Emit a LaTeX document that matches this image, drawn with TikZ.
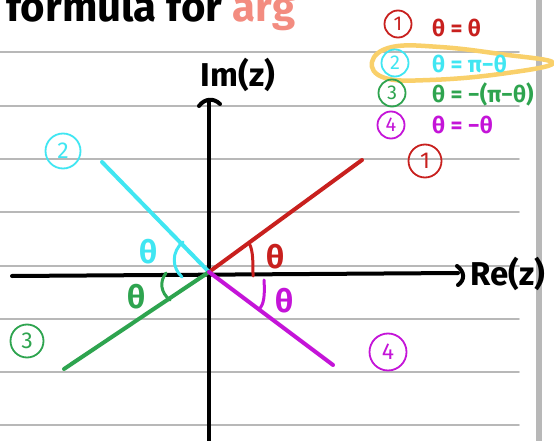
\documentclass[tikz,border=0pt]{standalone}
\usepackage{fontspec}
\setmainfont{Fira Sans}
\definecolor{penred}{HTML}{C8201E}
\definecolor{pencyan}{HTML}{40E6F2}
\definecolor{pengreen}{HTML}{2EA44F}
\definecolor{penmag}{HTML}{C414D8}
\definecolor{penyel}{HTML}{F9D06A}
\definecolor{pensalmon}{HTML}{F38C80}
\definecolor{rulegrey}{HTML}{B8B8B8}
\begin{document}
\begin{tikzpicture}[x=1pt,y=-1pt, line cap=round, line join=round,
  pen/.style={line width=4pt},
  thinpen/.style={line width=3pt},
  circnum/.style={draw, circle, line width=1.8pt, inner sep=0pt, minimum size=27pt, font=\fontsize{20}{20}\selectfont},
  bigcirc/.style={circnum, minimum size=33pt, font=\fontsize{23}{23}\selectfont},
  eqn/.style={inner sep=0pt, anchor=west, font=\fontsize{23}{23}\selectfont\bfseries},
  anglbl/.style={inner sep=0pt, font=\fontsize{32}{32}\selectfont\bfseries},
  axlbl/.style={inner sep=0pt, font=\fontsize{33}{33}\selectfont\bfseries}]
\useasboundingbox (0,0) rectangle (554,441);
\clip (0,0) rectangle (554,441);
\fill[white] (0,0) rectangle (554,441);
% ruled paper
\foreach \y in {52,106,159,212,266,319,372,425}
  \draw[rulegrey, line width=1.6pt] (0,\y) -- (519,\y);
\fill[rulegrey] (536,0) rectangle (542,441);
% title (cut at the top, as in the reference)
\node[anchor=base west, inner sep=0pt, font=\fontsize{42}{42}\selectfont\bfseries] (title) at (6,22) {formula for \textcolor{pensalmon}{arg}};
% highlight loop
\draw[penyel, line width=4.5pt] plot[smooth cycle, tension=0.7] coordinates {(372,62) (392,47) (440,47) (500,54) (553,63) (500,74) (430,80) (385,78)};
% axes
\coordinate (O) at (209,272);
\coordinate (xl) at (12,276);
\coordinate (xr) at (458,273);
\coordinate (yb) at (209,445);
\coordinate (yt) at (209,100);
\draw[pen] (xl) -- (xr);
\draw[pen] (457,266) .. controls (465,272) and (465,280) .. (458,285);
\draw[pen] (yb) -- (yt);
\draw[pen] (199,106) .. controls (205,98) and (214,98) .. (220,104);
\node[axlbl] (im) at (238,75) {Im(z)};
\node[axlbl, anchor=west] (re) at (470,274) {Re(z)};
% rays
\coordinate (e1) at (362,160);
\coordinate (e2) at (102,162);
\coordinate (e3) at (64,369);
\coordinate (e4) at (333,365);
\draw[pen, penred] (O) -- (e1);
\draw[pen, pencyan] (O) -- (e2);
\draw[pen, pengreen] (O) -- (e3);
\draw[pen, penmag] (O) -- (e4);
% angle marks
\draw[thinpen, penred] (253,276) .. controls (253,262) and (253,252) .. (250,245);
\draw[thinpen, pencyan] (183,242) .. controls (171,252) and (172,268) .. (182,277);
\draw[thinpen, pengreen] (166,273) .. controls (159,282) and (161,293) .. (170,300);
\draw[thinpen, penmag] (264,280) .. controls (265,295) and (264,305) .. (259,309);
\node[anglbl, penred] (t1) at (276,257) {θ};
\node[anglbl, pencyan] (t2) at (149,252) {θ};
\node[anglbl, pengreen] (t3) at (137,297) {θ};
\node[anglbl, penmag] (t4) at (285,301) {θ};
% quadrant numbers on the plot
\node[bigcirc, penred] (q1) at (425,161) {1};
\node[bigcirc, pencyan, minimum size=35pt] (q2) at (63,151) {2};
\node[bigcirc, pengreen] (q3) at (27,341) {3};
\node[bigcirc, penmag, minimum size=37pt] (q4) at (388,352) {4};
% legend
\node[circnum, penred] (l1) at (398,24) {1};
\node[eqn, penred] (f1) at (432,28) {θ = θ};
\node[circnum, pencyan] (l2) at (395,63) {2};
\node[eqn, pencyan] (f2) at (432,64) {θ = π−θ};
\node[circnum, pengreen] (l3) at (392,93) {3};
\node[eqn, pengreen] (f3) at (432,94) {θ = −(π−θ)};
\node[circnum, penmag] (l4) at (391,125) {4};
\node[eqn, penmag] (f4) at (432,125) {θ = −θ};
\end{tikzpicture}
\end{document}
